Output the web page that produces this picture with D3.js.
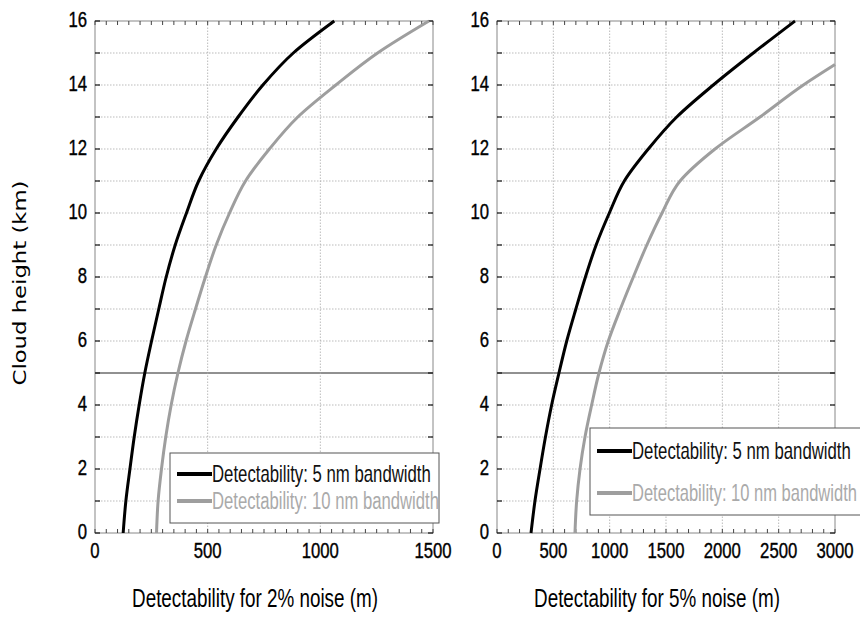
<!DOCTYPE html>
<html>
<head>
<meta charset="utf-8">
<script src="https://cdn.jsdelivr.net/npm/d3@7"></script>
<style>
  body { margin: 0; background: #fff; }
  svg { display: block; }
</style>
</head>
<body>
<svg id="chart" width="860" height="617"></svg>
<script>
// cloud height (km) against detectability (m)
let heights = [0,1,2,3,4,5,6,7,8,9,10,11,12,13,14,15,16];

let det2_5nm = [125,137,155,174,196,221,251,283,316,356,406,460,538,635,745,880,1062];
let det2_10nm = [273,280,295,314,338,368,404,446,490,538,597,668,774,900,1069,1254,1482];

let det5_5nm = [302,337,382,430,485,550,619,700,785,880,997,1130,1343,1595,1920,2275,2645];
let det5_10nm = [692,707,737,781,840,905,988,1095,1210,1330,1465,1625,1935,2334,2719,3000];
let det5_10nm_h = [0,1,2,3,4,5,6,7,8,9,10,11,12,13,14,14.64];

let yTicks = [0,2,4,6,8,10,12,14,16];
let xTicksLeft = [0,500,1000,1500];
let xTicksRight = [0,500,1000,1500,2000,2500,3000];
let legendLabels = ["Detectability: 5 nm bandwidth", "Detectability: 10 nm bandwidth"];
let seriesColors = ["#000000", "#9e9e9e"];

let svg = d3.select("#chart");
let font = "'Liberation Sans',Arial,sans-serif";

function pairs(xs, ys){
    return xs.map((x,i)=>[x, ys[i]]);
}

// squeeze a text horizontally so it looks like the narrow font of the original
function squeeze(t, x, y, sx){
    t.attr("transform", `translate(${x},${y}) scale(${sx},1)`);
}
function fitWidth(t, x, y, w){
    let n = t.node().getComputedTextLength();
    squeeze(t, x, y, w / n);
}

function drawPanel(opt){
    let x = d3.scaleLinear().domain([0, opt.xmax]).range([opt.left, opt.right]);
    let y = d3.scaleLinear().domain([0, 16]).range([533, 21]);
    let g = svg.append("g");

    // horizontal dotted grid, every km
    g.selectAll(".hgrid").data(d3.range(1, 16)).enter().append("line")
        .attr("x1", opt.left).attr("x2", opt.right)
        .attr("y1", d=>y(d)).attr("y2", d=>y(d))
        .attr("stroke", d=> d===5 ? "#222" : "#aaa")
        .attr("stroke-width", d=> d===5 ? 1 : 0.8)
        .attr("stroke-dasharray", d=> d===5 ? null : "1.5,1.5");

    // vertical dotted grid
    g.selectAll(".vgrid").data(opt.xticks.slice(1, -1)).enter().append("line")
        .attr("x1", d=>x(d)).attr("x2", d=>x(d))
        .attr("y1", y(0)).attr("y2", y(16))
        .attr("stroke", "#aaa").attr("stroke-width", 0.8)
        .attr("stroke-dasharray", "1.5,1.5");

    // box
    g.append("rect")
        .attr("x", opt.left).attr("y", y(16))
        .attr("width", opt.right-opt.left).attr("height", y(0)-y(16))
        .attr("fill", "none").attr("stroke", "#888").attr("stroke-width", 1);

    // minor ticks top and bottom
    let minor = d3.range(0, opt.xmax + 1, opt.minor);
    g.selectAll(".mtb").data(minor).enter().append("line")
        .attr("x1", d=>x(d)).attr("x2", d=>x(d))
        .attr("y1", y(0)).attr("y2", y(0)-4)
        .attr("stroke", "#444").attr("stroke-width", 1);
    g.selectAll(".mtt").data(minor).enter().append("line")
        .attr("x1", d=>x(d)).attr("x2", d=>x(d))
        .attr("y1", y(16)).attr("y2", y(16)+4)
        .attr("stroke", "#444").attr("stroke-width", 1);

    // y ticks both sides
    let ys = d3.range(0, 17);
    g.selectAll(".ytl").data(ys).enter().append("line")
        .attr("x1", opt.left).attr("x2", opt.left+5)
        .attr("y1", d=>y(d)).attr("y2", d=>y(d))
        .attr("stroke", "#111").attr("stroke-width", 1.2);
    g.selectAll(".ytr").data(ys).enter().append("line")
        .attr("x1", opt.right-5).attr("x2", opt.right)
        .attr("y1", d=>y(d)).attr("y2", d=>y(d))
        .attr("stroke", "#111").attr("stroke-width", 1.2);

    // tick labels
    g.selectAll(".ylab").data(yTicks).enter().append("text")
        .attr("dy", "0.35em")
        .attr("text-anchor", "end")
        .attr("stroke", "#000").attr("stroke-width", 0.4)
        .style("font-family", font).style("font-size", "22px")
        .text(d=>d)
        .each(function(d){ squeeze(d3.select(this), opt.left-8, y(d)-2, 0.76); });
    g.selectAll(".xlab").data(opt.xticks).enter().append("text")
        .attr("text-anchor", "middle")
        .attr("stroke", "#000").attr("stroke-width", 0.4)
        .style("font-family", font).style("font-size", "22px")
        .text(d=>d)
        .each(function(d){ squeeze(d3.select(this), x(d), 558, 0.76); });

    // axis title
    let tt = g.append("text")
        .attr("text-anchor", "middle")
        .style("font-family", font).style("font-size", "26px")
        .text(opt.title);
    fitWidth(tt, (opt.left+opt.right)/2 - 9, 607, 246);

    // curves
    let line = d3.line().x(d=>x(d[0])).y(d=>y(d[1])).curve(d3.curveMonotoneY);
    opt.series.forEach((s, i)=>{
        g.append("path")
            .datum(s)
            .attr("fill", "none")
            .attr("stroke", seriesColors[i])
            .attr("stroke-width", 3)
            .attr("stroke-linejoin", "round")
            .attr("d", line);
    });

    // legend
    let lg = opt.legend;
    g.append("rect")
        .attr("x", lg.x).attr("y", lg.y)
        .attr("width", lg.w).attr("height", lg.h)
        .attr("fill", "#fff").attr("stroke", "#555").attr("stroke-width", 1);
    legendLabels.forEach((lab, i)=>{
        let ly = lg.rows[i];
        g.append("line")
            .attr("x1", lg.x+7).attr("x2", lg.x+42)
            .attr("y1", ly).attr("y2", ly)
            .attr("stroke", seriesColors[i]).attr("stroke-width", 4);
        let t = g.append("text")
            .attr("fill", i===0 ? "#111" : "#aaa")
            .style("font-family", font).style("font-size", "23px")
            .text(lab);
        fitWidth(t, lg.x+42, ly+8, lg.tw[i]);
    });
}

drawPanel({
    left: 95, right: 433, xmax: 1500, minor: 50,
    xticks: xTicksLeft,
    title: "Detectability for 2% noise (m)",
    series: [pairs(det2_5nm, heights), pairs(det2_10nm, heights)],
    legend: {x: 170, y: 453, w: 269, h: 70, rows: [474, 501], tw: [219, 227]}
});

drawPanel({
    left: 497, right: 835, xmax: 3000, minor: 100,
    xticks: xTicksRight,
    title: "Detectability for 5% noise (m)",
    series: [pairs(det5_5nm, heights), pairs(det5_10nm, det5_10nm_h)],
    legend: {x: 590, y: 428, w: 290, h: 87, rows: [451, 493], tw: [219, 225]}
});

// shared y title
let yt = svg.append("text")
    .attr("text-anchor", "middle")
    .style("font-family", "'DejaVu Sans',sans-serif").style("font-size", "17px")
    .text("Cloud height (km)");
yt.attr("transform", "translate(26,283) rotate(-90)")
    .attr("textLength", 205).attr("lengthAdjust", "spacingAndGlyphs");
</script>
</body>
</html>
